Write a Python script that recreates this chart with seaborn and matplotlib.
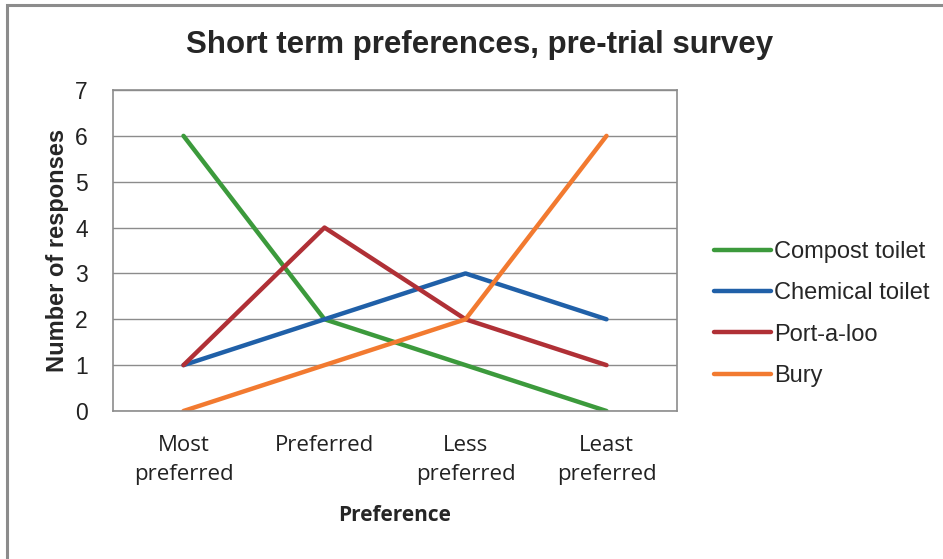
import matplotlib
matplotlib.use('Agg')
import matplotlib.pyplot as plt
from matplotlib.patches import Rectangle
import seaborn as sns
import pandas as pd

# data
preferences = ["Most\npreferred", "Preferred", "Less\npreferred", "Least\npreferred"]
compost_toilet = [6, 2, 1, 0]
chemical_toilet = [1, 2, 3, 2]
port_a_loo = [1, 4, 2, 1]
bury = [0, 1, 2, 6]

series_names = ["Compost toilet", "Chemical toilet", "Port-a-loo", "Bury"]
series_values = [compost_toilet, chemical_toilet, port_a_loo, bury]
colors = ["#3c9a3c", "#2060a8", "#b03036", "#f27a30"]

rows = []
for name, vals in zip(series_names, series_values):
    for pref, v in zip(preferences, vals):
        rows.append({"Preference": pref, "Responses": v, "Option": name})
df = pd.DataFrame(rows)

sns.set_style("white")
plt.rcParams['font.family'] = ['Liberation Sans', 'DejaVu Sans']

fig = plt.figure(figsize=(9.43, 5.59), dpi=100)
fig.patch.set_facecolor('white')
ax = fig.add_axes([113 / 943, 1 - 411 / 559, 564 / 943, 321 / 559])

# outer chart border (only top and left edges are visible in the crop)
fig.patches.append(Rectangle((7 / 943, -0.1), 1.2, 1 - 5 / 559 + 0.1,
                             transform=fig.transFigure, fill=False,
                             edgecolor='#8c8c8c', linewidth=2.2))

sns.lineplot(data=df, x="Preference", y="Responses", hue="Option",
             hue_order=series_names, palette=colors, sort=False,
             linewidth=3.2, ax=ax, legend=True)

ax.set_xlim(-0.5, 3.5)
ax.set_ylim(0, 7)
ax.set_yticks(range(0, 8))
ax.grid(axis='y', color='#8c8c8c', linewidth=1.0)
ax.grid(axis='x', visible=False)
ax.set_axisbelow(True)
for spine in ax.spines.values():
    spine.set_color('#8c8c8c')
    spine.set_linewidth(1.2)

ax.tick_params(axis='both', length=0)
ax.tick_params(axis='y', labelsize=16.5, pad=18, colors='#222222')
ax.tick_params(axis='x', pad=17, colors='#222222')
for lbl in ax.get_xticklabels():
    lbl.set_family(['Open Sans', 'DejaVu Sans'])
    lbl.set_fontsize(16)
    lbl.set_linespacing(1.55)

ax.set_ylabel("Number of responses", fontsize=17, fontweight='bold')
ax.yaxis.set_label_coords((69 - 113) / 564, 0.5)
ax.set_xlabel("Preference", fontsize=15, fontweight='bold',
              family=['Open Sans', 'DejaVu Sans'], labelpad=14)

fig.text(480 / 943, 1 - 45 / 559, "Short term preferences, pre-trial survey",
         ha='center', va='center', fontsize=22.5, fontweight='bold')

handles, labels = ax.get_legend_handles_labels()
ax.legend(handles, labels, loc='center left',
          bbox_to_anchor=(714 / 943, 1 - 314 / 559), bbox_transform=fig.transFigure,
          frameon=False, fontsize=17, handlelength=2.4, handletextpad=0.15,
          labelspacing=0.82, borderpad=0, borderaxespad=0)
for line in ax.get_legend().get_lines():
    line.set_linewidth(3.2)

fig.savefig("out.png", dpi=100, facecolor='white')
